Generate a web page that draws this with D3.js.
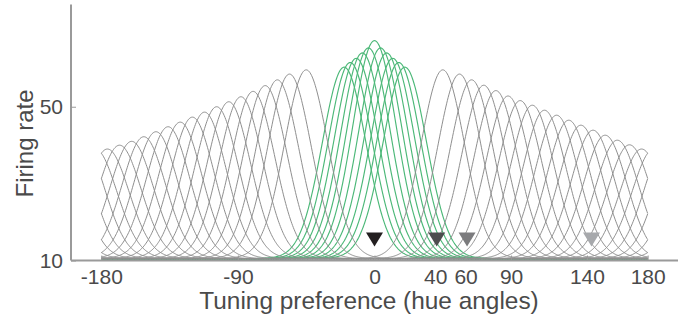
<!DOCTYPE html>
<html><head><meta charset="utf-8">
<script src="https://cdn.jsdelivr.net/npm/d3@7"></script>
<style>body{margin:0;background:#fff}svg{display:block}</style>
</head><body>
<svg id="c" width="686" height="320"></svg>
<script>
// ---- data ----
const grayLeftCenters = [-176,-168,-160,-152,-144,-136,-128,-120,-112,-104,-96,-88,-80,-72,-64,-56,-45];
const grayLeftPeaks   = [39.0,40.0,41.0,42.2,43.5,44.8,46.0,47.3,48.6,50.0,51.3,52.6,54.0,55.5,57.0,58.5,59.6];
const grayRightCenters = [45,56,64,72,80,88,96,104,112,120,128,136,144,152,160,168,176];
const grayRightPeaks   = [59.6,58.5,57.0,55.6,54.2,52.8,51.6,50.4,49.1,47.8,46.5,45.2,43.9,42.6,41.3,40.1,39.0];
const greenCenters = [-20,-16,-12,-8,-4,0,4,8,12,16,20];
const greenPeaks   = [60.3,61.5,62.6,64.0,65.3,67.2,65.3,64.0,62.6,61.5,60.3];
const baselineRate = 10.5;
const markerAngles = [0, 41, 61, 143];
const markerRate = 17.3;
const xTicks = [-180,-90,0,40,60,90,140,180];
const yTicks = [10,50];
const xDomain = [-200,200];
const yDomain = [10,76.6];
const hueRange = [-180,180];

// ---- layout ----
const svg = d3.select("#c");
const x = d3.scaleLinear().domain(xDomain).range([71,678]);
const y = d3.scaleLinear().domain(yDomain).range([260.5,4.5]);
const kappa = 16;

function curve(c, p){
  return d3.range(hueRange[0], hueRange[1]+0.001, 0.5).map(h =>
    [h, baselineRate + (p-baselineRate)*Math.exp(kappa*(Math.cos((h-c)*Math.PI/180)-1))]);
}
const line = d3.line().x(d=>x(d[0])).y(d=>y(d[1]));

const gray = grayLeftCenters.map((c,i)=>({c,p:grayLeftPeaks[i]}))
  .concat(grayRightCenters.map((c,i)=>({c,p:grayRightPeaks[i]})));
const green = greenCenters.map((c,i)=>({c,p:greenPeaks[i]}));

svg.append("g").selectAll("path").data(green).join("path")
  .attr("d", d=>line(curve(d.c,d.p)))
  .attr("fill","none").attr("stroke","#4cb878").attr("stroke-width",1.15);
svg.append("g").selectAll("path").data(gray).join("path")
  .attr("d", d=>line(curve(d.c,d.p)))
  .attr("fill","none").attr("stroke","#8f8f8f").attr("stroke-width",1);

// axes
const axisColor = "#9a9a9a";
const textColor = "#4a4a4a";
const fmt = d => String(d);
const xAxis = svg.append("g").attr("transform",`translate(0,${y(yDomain[0])})`)
  .call(d3.axisBottom(x).tickValues(xTicks).tickSize(-5).tickPadding(9).tickFormat(fmt));
const yAxis = svg.append("g").attr("transform",`translate(${x(xDomain[0])},0)`)
  .call(d3.axisLeft(y).tickValues(yTicks).tickSize(-5).tickPadding(8).tickFormat(fmt));
[xAxis,yAxis].forEach(a=>{
  a.select(".domain").attr("stroke",axisColor).attr("stroke-width",2);
  a.selectAll(".tick line").attr("stroke",axisColor).attr("stroke-width",1);
  a.selectAll("text").attr("fill",textColor).attr("font-family","'Liberation Sans', Arial, sans-serif").attr("font-size",21);
});
xAxis.select(".domain").attr("d",`M${x(xDomain[0])},0H${x(xDomain[1])}`);
yAxis.select(".domain").attr("d",`M0,${y(yDomain[1])}V${y(yDomain[0])}`);

// markers
const markerColors = ["#231f20","#4d4d4f","#7b7b7d","#a7a9ac"];
svg.append("g").selectAll("path").data(markerAngles).join("path")
  .attr("d", d=>{const cx=x(d), ty=y(markerRate); return `M${cx-8.5},${ty}L${cx+8.5},${ty}L${cx},${ty+14}Z`;})
  .attr("fill",(d,i)=>markerColors[i]);

// labels
svg.append("text").attr("x",369).attr("y",309).attr("text-anchor","middle")
  .attr("font-family","'Liberation Sans', Arial, sans-serif").attr("font-size",24.4).attr("fill",textColor)
  .text("Tuning preference (hue angles)");
svg.append("text").attr("transform","translate(33,143.5) rotate(-90)").attr("text-anchor","middle")
  .attr("font-family","'Liberation Sans', Arial, sans-serif").attr("font-size",24).attr("fill",textColor)
  .text("Firing rate");
</script>
</body></html>
